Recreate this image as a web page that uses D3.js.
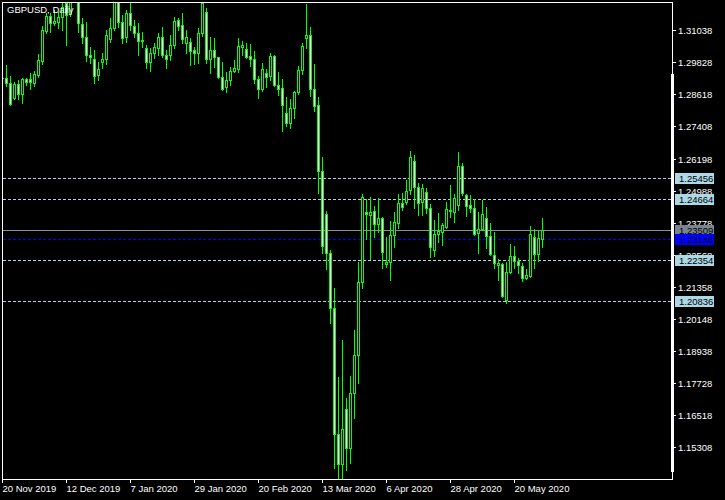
<!DOCTYPE html>
<html><head><meta charset="utf-8">
<script src="https://cdn.jsdelivr.net/npm/d3@7"></script>
<style>
html,body{margin:0;padding:0;background:#000;}
svg{display:block;}
</style></head><body>
<svg id="chart" width="725" height="500"></svg>
<script>
// ---------------- DATA ----------------
const chartTitle = "GBPUSD, Daily";
const firstDate = "2019-11-20";
const barCount = 136;
const holidays = ["2019-12-25", "2020-01-01"];

const openP = [1.2924,1.2923,1.2904,1.2850,1.2901,1.2862,1.2919,1.2920,1.2906,1.2935,
1.2989,1.3102,1.3158,1.3133,1.3136,1.3153,1.3206,1.3165,1.3330,1.3330,
1.3128,1.3077,1.3011,1.2994,1.2935,1.2985,1.2994,1.3070,1.3111,1.3255,
1.3136,1.3077,1.3168,1.3120,1.3093,1.3067,1.3036,1.2985,1.3017,1.3038,
1.3077,1.3011,1.3011,1.3048,1.3143,1.3124,1.3055,1.3061,1.3030,1.3019,
1.3093,1.3172,1.2994,1.3030,1.3002,1.2926,1.2889,1.2916,1.2951,1.2958,
1.3040,1.3032,1.3007,1.2994,1.2919,1.2881,1.2942,1.2931,1.3007,1.2896,
1.2885,1.2791,1.2753,1.2810,1.2870,1.2954,1.3076,1.3085,1.2881,1.2821,
1.2574,1.2410,1.2264,1.2054,1.1579,1.1465,1.1673,1.1526,1.1733,1.1877,
1.2155,1.2419,1.2405,1.2422,1.2372,1.2394,1.2220,1.2228,1.2331,1.2375,
1.2451,1.2455,1.2501,1.2612,1.2511,1.2455,1.2492,1.2432,1.2274,1.2334,
1.2341,1.2360,1.2425,1.2419,1.2444,1.2592,1.2482,1.2444,1.2432,1.2338,
1.2353,1.2394,1.2328,1.2256,1.2217,1.2222,1.2086,1.2193,1.2252,1.2234,
1.2214,1.2170,1.2177,1.2325,1.2259,1.2316];

const highP = [1.2930,1.2973,1.2931,1.2910,1.2916,1.2923,1.2923,1.2942,1.2951,1.3013,
1.3120,1.3168,1.3168,1.3181,1.3174,1.3215,1.3230,1.3514,1.3420,1.3352,
1.3149,1.3136,1.3042,1.3030,1.2985,1.3017,1.3105,1.3149,1.3285,1.3282,
1.3162,1.3181,1.3206,1.3143,1.3130,1.3096,1.3048,1.3036,1.3055,1.3093,
1.3118,1.3030,1.3086,1.3155,1.3149,1.3170,1.3105,1.3074,1.3042,1.3111,
1.3230,1.3187,1.3080,1.3074,1.3004,1.2985,1.2948,1.2966,1.2992,1.3074,
1.3064,1.3057,1.3052,1.3026,1.2931,1.2979,1.2957,1.3017,1.3011,1.2948,
1.2919,1.2851,1.2843,1.2875,1.2969,1.3055,1.3203,1.3115,1.2977,1.2851,
1.2627,1.2422,1.2274,1.2130,1.1794,1.1935,1.1715,1.1799,1.1972,1.2230,
1.2486,1.2466,1.2476,1.2441,1.2471,1.2398,1.2325,1.2384,1.2419,1.2486,
1.2489,1.2539,1.2648,1.2633,1.2526,1.2524,1.2507,1.2448,1.2388,1.2413,
1.2375,1.2457,1.2520,1.2486,1.2643,1.2602,1.2486,1.2482,1.2466,1.2419,
1.2463,1.2438,1.2378,1.2344,1.2239,1.2227,1.2230,1.2297,1.2290,1.2243,
1.2224,1.2202,1.2365,1.2353,1.2347,1.2394];

const lowP = [1.2916,1.2894,1.2822,1.2843,1.2843,1.2828,1.2897,1.2881,1.2894,1.2929,
1.2977,1.3093,1.3099,1.3124,1.3111,1.3105,1.3048,1.3158,1.3290,1.3099,
1.3057,1.2989,1.2979,1.2904,1.2916,1.2960,1.2977,1.3061,1.3105,1.3118,
1.3055,1.3061,1.3105,1.3080,1.3011,1.3042,1.2960,1.2951,1.2998,1.3011,
1.3004,1.2960,1.2992,1.3036,1.3105,1.3055,1.3017,1.2973,1.2977,1.2979,
1.3082,1.2979,1.2942,1.2966,1.2924,1.2879,1.2872,1.2897,1.2948,1.2948,
1.3011,1.2998,1.2970,1.2906,1.2850,1.2876,1.2889,1.2916,1.2894,1.2860,
1.2724,1.2743,1.2736,1.2772,1.2863,1.2939,1.3036,1.2857,1.2800,1.2490,
1.2264,1.2202,1.2000,1.1450,1.1409,1.1405,1.1444,1.1471,1.1639,1.1773,
1.2130,1.2315,1.2239,1.2325,1.2344,1.2205,1.2211,1.2161,1.2287,1.2356,
1.2425,1.2447,1.2486,1.2432,1.2407,1.2407,1.2415,1.2247,1.2252,1.2306,
1.2293,1.2356,1.2398,1.2381,1.2425,1.2482,1.2403,1.2419,1.2331,1.2264,
1.2350,1.2281,1.2256,1.2208,1.2161,1.2098,1.2073,1.2187,1.2205,1.2187,
1.2159,1.2164,1.2174,1.2205,1.2234,1.2287];

const closeP = [1.2922,1.2904,1.2826,1.2900,1.2863,1.2919,1.2910,1.2910,1.2939,1.2992,
1.3105,1.3158,1.3133,1.3139,1.3153,1.3193,1.3162,1.3330,1.3330,1.3130,
1.3077,1.3011,1.3002,1.2932,1.2958,1.2994,1.3086,1.3111,1.3260,1.3136,
1.3074,1.3168,1.3124,1.3095,1.3065,1.3064,1.2985,1.3017,1.3040,1.3077,
1.3011,1.2996,1.3048,1.3139,1.3121,1.3070,1.3077,1.3027,1.3017,1.3093,
1.3208,1.2994,1.3030,1.3002,1.2926,1.2881,1.2916,1.2950,1.2960,1.3045,
1.3048,1.3004,1.2994,1.2919,1.2881,1.2957,1.2929,1.3007,1.2896,1.2883,
1.2821,1.2753,1.2810,1.2870,1.2954,1.3045,1.3085,1.2881,1.2818,1.2573,
1.2290,1.2264,1.2054,1.1579,1.1465,1.1598,1.1526,1.1733,1.1877,1.2155,
1.2473,1.2412,1.2419,1.2372,1.2394,1.2268,1.2229,1.2331,1.2379,1.2451,
1.2436,1.2498,1.2624,1.2511,1.2453,1.2507,1.2432,1.2287,1.2335,1.2346,
1.2369,1.2428,1.2423,1.2470,1.2592,1.2491,1.2442,1.2432,1.2335,1.2353,
1.2410,1.2328,1.2258,1.2224,1.2224,1.2101,1.2193,1.2252,1.2234,1.2218,
1.2168,1.2180,1.2334,1.2258,1.2319,1.23509];

const xTickDates = ["2019-11-20","2019-12-12","2020-01-07","2020-01-29","2020-02-20",
                    "2020-03-13","2020-04-06","2020-04-28","2020-05-20"];
const yTickValues = [1.31038,1.29828,1.28618,1.27408,1.26198,1.24988,1.23778,
                     1.22568,1.21358,1.20148,1.18938,1.17728,1.16518,1.15308];
const levelPrices = [1.25456, 1.24664, 1.22354, 1.20836];
const bidPrice = 1.23509;
const bluePrice = 1.23146;
const priceMin = 1.14099, priceMax = 1.32107;

// ---------------- CATEGORIES (trading days) ----------------
const parseDate = d3.utcParse("%Y-%m-%d");
const fmtKey = d3.utcFormat("%Y-%m-%d");
const dates = [];
{
  let d = parseDate(firstDate);
  while (dates.length < barCount) {
    const wd = d.getUTCDay();
    const key = fmtKey(d);
    if (wd !== 0 && wd !== 6 && !holidays.includes(key)) dates.push(key);
    d = d3.utcDay.offset(d, 1);
  }
}
const bars = dates.map((d, i) => ({date: d, o: openP[i], h: highP[i], l: lowP[i], c: closeP[i]}));

// ---------------- LAYOUT ----------------
const FONT = "'Liberation Sans', Arial, sans-serif";
const svg = d3.select("#chart").attr("shape-rendering", "crispEdges");
svg.append("rect").attr("width", 725).attr("height", 500).attr("fill", "#000");

const plot = {left: 2, top: 2, right: 672, bottom: 479};
const xs = d3.scalePoint().domain(dates).range([2, 2 + 4 * (barCount - 1)]);
const ys = d3.scaleLinear().domain([priceMin, priceMax]).range([plot.bottom, plot.top]);
const ry = v => Math.round(ys(v));

svg.append("clipPath").attr("id", "clip")
  .append("rect").attr("x", plot.left + 1).attr("y", plot.top + 1)
  .attr("width", plot.right - plot.left - 1).attr("height", plot.bottom - plot.top - 1);

const inner = svg.append("g").attr("clip-path", "url(#clip)");

// level lines
const LB = "#add8e6";
inner.selectAll("line.level").data(levelPrices).join("line")
  .attr("x1", plot.left + 1).attr("x2", plot.right)
  .attr("y1", d => ry(d) + 0.5).attr("y2", d => ry(d) + 0.5)
  .attr("stroke", LB).attr("stroke-width", 1).attr("stroke-dasharray", "3,2");
inner.append("line")
  .attr("x1", plot.left + 1).attr("x2", plot.right)
  .attr("y1", ry(bidPrice) + 0.5).attr("y2", ry(bidPrice) + 0.5)
  .attr("stroke", "#8a9099").attr("stroke-width", 1);
inner.append("line")
  .attr("x1", plot.left + 1).attr("x2", plot.right)
  .attr("y1", ry(bluePrice) + 0.5).attr("y2", ry(bluePrice) + 0.5)
  .attr("stroke", "#0000ff").attr("stroke-width", 1).attr("stroke-dasharray", "3,2");

// candles
const LIME = "#00ff00";
const cg = inner.selectAll("g.bar").data(bars).join("g").attr("class", "bar");
cg.append("rect")
  .attr("x", d => Math.round(xs(d.date)))
  .attr("y", d => ry(d.h))
  .attr("width", 1)
  .attr("height", d => ry(d.l) - ry(d.h) + 1)
  .attr("fill", LIME);
cg.append("rect")
  .attr("x", d => Math.round(xs(d.date)) - 1)
  .attr("y", d => ry(Math.max(d.o, d.c)))
  .attr("width", 3)
  .attr("height", d => ry(Math.min(d.o, d.c)) - ry(Math.max(d.o, d.c)) + 1)
  .attr("fill", LIME);
cg.filter(d => ry(Math.min(d.o, d.c)) - ry(Math.max(d.o, d.c)) > 1).append("rect")
  .attr("x", d => Math.round(xs(d.date)))
  .attr("y", d => ry(Math.max(d.o, d.c)) + 1)
  .attr("width", 1)
  .attr("height", d => ry(Math.min(d.o, d.c)) - ry(Math.max(d.o, d.c)) - 1)
  .attr("fill", d => d.c > d.o ? "#000" : "#fff");

// frame
svg.append("rect")
  .attr("x", plot.left + 0.5).attr("y", plot.top + 0.5)
  .attr("width", plot.right - plot.left).attr("height", plot.bottom - plot.top)
  .attr("fill", "none").attr("stroke", "#fff");
svg.append("rect").attr("x", 671).attr("y", 74).attr("width", 3).attr("height", 398).attr("fill", "#fff");

// y axis
const yAxis = d3.axisRight(ys).tickValues(yTickValues).tickSize(4).tickSizeOuter(0)
  .tickPadding(2).tickFormat(d3.format(".5f"));
const gy = svg.append("g").attr("transform", `translate(${plot.right},0)`).call(yAxis);
gy.select(".domain").remove();
gy.attr("font-family", FONT).attr("font-size", 9.5);
gy.selectAll(".tick").attr("transform", d => `translate(0,${ry(d) + 0.5})`);
gy.selectAll(".tick line").attr("stroke", "#fff");
gy.selectAll(".tick text").attr("fill", "#fff").attr("dy", "0.34em");

// x axis
const fmtLabel = d3.utcFormat("%-d %b %Y");
const xAxis = d3.axisBottom(xs).tickValues(xTickDates).tickSize(4).tickSizeOuter(0)
  .tickFormat(d => fmtLabel(parseDate(d)));
const gx = svg.append("g").attr("transform", `translate(0,${plot.bottom})`).call(xAxis);
gx.select(".domain").remove();
gx.attr("font-family", FONT).attr("font-size", 9.5);
gx.selectAll(".tick line").attr("stroke", "#fff");
gx.selectAll(".tick text").attr("fill", "#fff").attr("text-anchor", "start")
  .attr("x", 0).attr("y", 13).attr("dy", 0);

// right price labels
const priceLabels = levelPrices.map(p => ({p, bg: LB, fg: "#000"}))
  .concat([{p: bidPrice, bg: "#7a8590", fg: "#000"}, {p: bluePrice, bg: "#0000ff", fg: "#000"}]);
const pl = svg.selectAll("g.plabel").data(priceLabels).join("g").attr("class", "plabel");
pl.append("rect").attr("x", 675).attr("y", d => ry(d.p) - 5).attr("width", 39).attr("height", 11)
  .attr("fill", d => d.bg);
pl.append("text").attr("x", 679).attr("y", d => ry(d.p) + 4)
  .attr("font-family", FONT).attr("font-size", 9.5).attr("fill", d => d.fg)
  .text(d => d3.format(".5f")(d.p));

// title
svg.append("text").attr("x", 7).attr("y", 13)
  .attr("font-family", FONT).attr("font-size", 9.5).attr("fill", "#fff")
  .text(chartTitle);
</script>
</body></html>
